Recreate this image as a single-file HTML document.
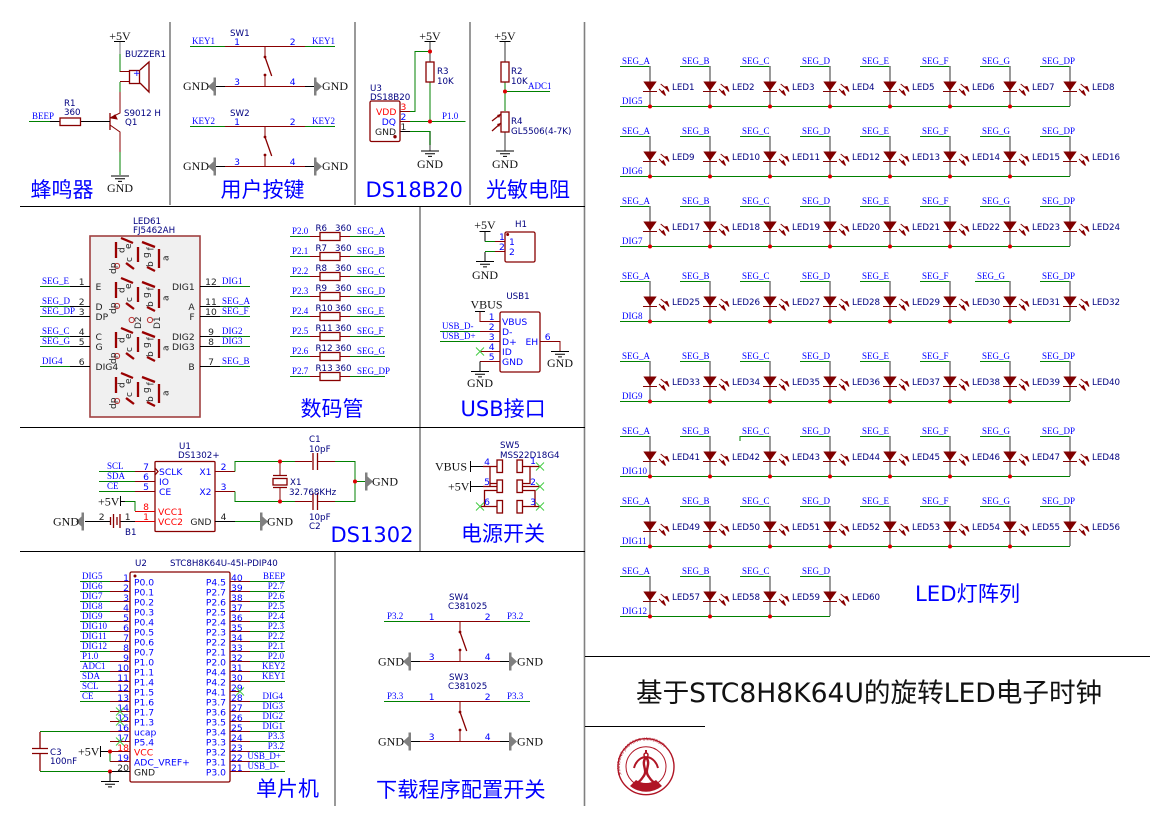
<!DOCTYPE html>
<html><head><meta charset="utf-8"><style>
html,body{margin:0;padding:0;background:#fff}
svg{display:block}
text{white-space:pre}
.n{font:9px "Liberation Serif",serif;fill:#0000ff}
.b{font:12px "Liberation Serif",serif;fill:#111}
.c{font:8.7px "DejaVu Sans",sans-serif;fill:#000080}
.p{font:9.2px "DejaVu Sans",sans-serif;fill:#0000ff}
.k{font:9.2px "DejaVu Sans",sans-serif;fill:#222}
.r{font:9.2px "DejaVu Sans",sans-serif;fill:#ff0000}
.s{font:9px "DejaVu Sans",sans-serif;fill:#222}
.t{font:21px "DejaVu Sans","WenQuanYi Zen Hei","Noto Sans CJK SC",sans-serif;fill:#0000ff}
.e{text-anchor:end}.m{text-anchor:middle}
.g{stroke:#008000;stroke-width:1;fill:none}
.d{stroke:#880000;stroke-width:1;fill:none}
.a{stroke:#000;stroke-width:1;fill:none}
.y{stroke:#808080;stroke-width:1.6;fill:none}
.q{stroke:#880000;stroke-width:1.3;fill:#fff}
.x{stroke:#880000;stroke-width:1.3;fill:none}
</style></head><body>
<svg width="1169" height="827" viewBox="0 0 1169 827" xmlns="http://www.w3.org/2000/svg">
<defs>
<g id="gnd" stroke="#000" fill="none"><path d="M-9 .5H9M-5 3.2H5M-2 5.9H2"/></g>
<path id="gl" d="M-2.5 -9H0V9H-2.5V5L-8 0L-2.5 -5Z" fill="#808080"/>
<path id="gr" d="M2.5 -9H0V9H2.5V5L8 0L2.5 -5Z" fill="#808080"/>
<g id="xm" stroke="#44cc44" stroke-width="1" fill="none"><path d="M-4 -4L4 4M-4 4L4 -4"/></g>
<circle id="dot" r="2" fill="#dd0000"/>
<g id="led">
<path d="M0 0V40" stroke="#808080" stroke-width="1.6" fill="none"/>
<path d="M-6.7 15.5H6.7L0 25Z" fill="#800000"/>
<path d="M-7 25.5H7" stroke="#800000" fill="none"/>
<path d="M10.7 18L18.5 24.5M9 23L15 29" stroke="#880000" fill="none"/>
<path d="M15 21L19 25.5L17 20.5ZM11.5 26L15.5 29.5L13.5 24.5Z" fill="#880000" stroke="#880000"/>
</g>
<g id="sw">
<path class="d" d="M40 .5H120M80 .5V11M40 40.5H120M80 29V40.5"/>
<path class="x" d="M80 11L86.7 30"/>
<circle cx="80" cy="11" r="1.4" fill="#880000"/><circle cx="80" cy="29" r="1.4" fill="#880000"/>
</g>
<g id="res"><path class="d" d="M310 .5H320M340 .5H350"/><path class="g" d="M290 .5H310M350 .5H385"/><rect x="320" y="-3.5" width="20" height="8" class="q"/></g>
<g id="seg" stroke="#990000" stroke-width="2.3" fill="none">
<path d="M116 242V258M121 238L133 243M138 247V262M142 242L155 247M159 249V268M126 263L134 269M147 267L155 271"/>
<circle cx="117" cy="266" r="2.6" stroke="#bb3333" stroke-width="1"/>
</g>
</defs>

<!-- frame lines -->
<g fill="none">
<path d="M170 22V205M355 22V205M470 22V205M420 206V551M335 552V806M584.5 22V806" stroke="#808080" stroke-width="1.6"/>
<path d="M20 206.5H585M20 427.5H585M20 551.5H585M585 656.5H1150M585 726.5H705" stroke="#000" stroke-width="1"/>
</g>

<!-- buzzer -->
<text class="b m" x="120" y="40">+5V</text><path class="a" d="M114 41.5H125"/>
<path d="M120 42V54" stroke="#777" fill="none"/><path class="g" d="M120 54V72"/>
<path class="d" d="M120 71.5H129M120 81.5H129"/><path class="g" d="M120 82V92"/><path class="d" d="M120 92V113L110 118M120 175V132L110 125"/><path class="g" d="M120 152V175"/>
<path d="M111 118L115 115L117 119Z" fill="#880000" stroke="#880000"/>
<rect x="129.5" y="70.5" width="10" height="13" class="x"/><path class="x" d="M140 70L149 62V92L140 83"/>
<text class="p" x="133" y="76">+</text>
<text class="c" x="125" y="57">BUZZER1</text>
<text class="c" x="124" y="116">S9012 H</text><text class="c" x="125" y="125">Q1</text>
<path class="x" d="M110 113V130"/>
<path class="a" d="M50 121.5H60M81 121.5H110"/><path class="g" d="M29 121.5H50"/>
<rect x="60" y="118" width="20.5" height="7.5" class="q"/>
<text class="n" x="32" y="119">BEEP</text><text class="c" x="64" y="106">R1</text><text class="c" x="64" y="115">360</text>
<use href="#gnd" x="120" y="175.5"/><text class="b m" x="120" y="192">GND</text>
<text class="t" x="30.5" y="197">蜂鸣器</text>

<!-- keys -->
<g>
<path class="g" d="M190 46.5H225M305 46.5H335M190 126.5H225M305 126.5H335"/>
<path class="a" d="M214 86.5H225M305 86.5H315M214 166.5H225M305 166.5H315"/>
</g>
<use href="#sw" x="185" y="46"/><use href="#sw" x="185" y="126"/>
<use href="#gl" x="216" y="86.5"/><use href="#gr" x="314" y="86.5"/><use href="#gl" x="216" y="166.5"/><use href="#gr" x="314" y="166.5"/>
<text class="c" x="230" y="36">SW1</text><text class="c" x="230" y="116">SW2</text>
<text class="n" x="192" y="44">KEY1</text><text class="n" x="312" y="44">KEY1</text>
<text class="n" x="192" y="124">KEY2</text><text class="n" x="312" y="124">KEY2</text>
<text class="p m" x="237" y="45">1</text><text class="p m" x="292.7" y="45">2</text><text class="p m" x="237" y="85">3</text><text class="p m" x="292.7" y="85">4</text>
<text class="p m" x="237" y="125">1</text><text class="p m" x="292.7" y="125">2</text><text class="p m" x="237" y="165">3</text><text class="p m" x="292.7" y="165">4</text>
<text class="b" x="183" y="90">GND</text><text class="b" x="322" y="90">GND</text><text class="b" x="183" y="170">GND</text><text class="b" x="322" y="170">GND</text>
<text class="t" x="220.5" y="197">用户按键</text>

<!-- DS18B20 -->
<text class="b m" x="430" y="40">+5V</text><path class="a" d="M424.5 41.5H435.5"/>
<path class="y" d="M430 42V62M430 131V151" stroke-width="1"/>
<path class="g" d="M430 51.5H415V111.5H410M430 82V121M410 121.5H465.5M410 131.5H430V145"/>
<path class="d" d="M400 111.5H410" stroke="#ff0000"/><path class="d" d="M400 121.5H410"/><path class="a" d="M400 131.5H410"/>
<rect x="370" y="101" width="30" height="40.5" rx="1.5" class="x" fill="none"/>
<rect x="426" y="62" width="8" height="20" class="q"/>
<use href="#dot" x="430" y="51.5"/><use href="#dot" x="430" y="121.5"/>
<circle cx="395" cy="136.7" r="1.7" fill="#880000"/>
<text class="r" x="376" y="115">VDD</text><text class="p e" x="396" y="125">DQ</text><text class="k" x="375" y="135">GND</text>
<text class="r" x="400.5" y="110">3</text><text class="p" x="400.5" y="120">2</text><text class="k" x="400.5" y="130">1</text>
<text class="c" x="370" y="91">U3</text><text class="c" x="370" y="100">DS18B20</text>
<text class="c" x="437" y="74">R3</text><text class="c" x="437" y="84">10K</text>
<text class="n" x="442" y="119">P1.0</text>
<use href="#gnd" x="430" y="150.5"/><text class="b m" x="430" y="168">GND</text>
<text class="t" x="365.5" y="197">DS18B20</text>

<!-- photo -->
<text class="b m" x="505" y="40">+5V</text><path class="a" d="M499.5 41.5H510.5"/>
<path class="y" d="M505 42V62M505 132V151" stroke-width="1"/>
<path class="g" d="M505 82V111M505 91.5H550"/>
<rect x="501" y="62" width="8" height="20" class="q"/><rect x="501" y="112" width="8" height="20" class="q"/>
<path class="x" d="M492 121L501 114M492 131L501 123"/>
<path d="M501 114L497 115L499 118ZM501 123L497 124L499 127Z" fill="#880000"/>
<use href="#dot" x="505" y="91.5"/>
<text class="c" x="511" y="74">R2</text><text class="c" x="511" y="84">10K</text>
<text class="n" x="528" y="89">ADC1</text>
<text class="c" x="511" y="124">R4</text><text class="c" x="511" y="134">GL5506(4-7K)</text>
<use href="#gnd" x="505" y="150.5"/><text class="b m" x="505" y="168">GND</text>
<text class="t" x="486" y="197">光敏电阻</text>

<!-- 7-seg -->
<rect x="90" y="236" width="110" height="181" fill="#f0f0f0" stroke="#a04040" stroke-width="1.6"/>
<text class="c" x="133" y="224">LED61</text><text class="c" x="133" y="233">FJ5462AH</text>
<use href="#seg"/><use href="#seg" y="40"/><use href="#seg" y="90"/><use href="#seg" y="135"/>
<g>
<text transform="translate(124.500,253) rotate(-90)" class="s">d</text><text transform="translate(131,249) rotate(-90)" class="s">e</text><text transform="translate(132,262) rotate(-90)" class="s">c</text><text transform="translate(149,258) rotate(-90)" class="s">g</text><text transform="translate(153.500,250.500) rotate(-90)" class="s">f</text><text transform="translate(153,267) rotate(-90)" class="s">b</text><text transform="translate(168.700,261) rotate(-90)" class="s">a</text><text transform="translate(116,274) rotate(-90)" class="s">dp</text>
</g>
<g transform="translate(0,40)">
<text transform="translate(124.500,253) rotate(-90)" class="s">d</text><text transform="translate(131,249) rotate(-90)" class="s">e</text><text transform="translate(132,262) rotate(-90)" class="s">c</text><text transform="translate(149,258) rotate(-90)" class="s">g</text><text transform="translate(153.500,250.500) rotate(-90)" class="s">f</text><text transform="translate(153,267) rotate(-90)" class="s">b</text><text transform="translate(168.700,261) rotate(-90)" class="s">a</text><text transform="translate(116,274) rotate(-90)" class="s">dp</text>
</g>
<g transform="translate(0,90)">
<text transform="translate(124.500,253) rotate(-90)" class="s">d</text><text transform="translate(131,249) rotate(-90)" class="s">e</text><text transform="translate(132,262) rotate(-90)" class="s">c</text><text transform="translate(149,258) rotate(-90)" class="s">g</text><text transform="translate(153.500,250.500) rotate(-90)" class="s">f</text><text transform="translate(153,267) rotate(-90)" class="s">b</text><text transform="translate(168.700,261) rotate(-90)" class="s">a</text><text transform="translate(116,274) rotate(-90)" class="s">dp</text>
</g>
<g transform="translate(0,135)">
<text transform="translate(124.500,253) rotate(-90)" class="s">d</text><text transform="translate(131,249) rotate(-90)" class="s">e</text><text transform="translate(132,262) rotate(-90)" class="s">c</text><text transform="translate(149,258) rotate(-90)" class="s">g</text><text transform="translate(153.500,250.500) rotate(-90)" class="s">f</text><text transform="translate(153,267) rotate(-90)" class="s">b</text><text transform="translate(168.700,261) rotate(-90)" class="s">a</text><text transform="translate(116,274) rotate(-90)" class="s">dp</text>
</g>
<circle cx="131.700" cy="320" r="2.6" fill="none" stroke="#bb3333"/><circle cx="150" cy="320" r="2.6" fill="none" stroke="#bb3333"/>
<text transform="translate(141,329) rotate(-90)" class="s">D2</text><text transform="translate(160,329) rotate(-90)" class="s">D1</text>
<path class="a" d="M70 286.5H90M70 306.5H90M70 316.5H90M70 336.5H90M70 346.5H90M70 366.5H90M200 286.5H220M200 306.5H220M200 316.5H220M200 336.5H220M200 346.5H220M200 366.5H220"/>
<path class="g" d="M40 286.5H70M40 306.5H70M40 316.5H70M40 336.5H70M40 346.5H70M40 366.5H70M220 286.5H250M220 306.5H250M220 316.5H250M220 336.5H250M220 346.5H250M220 366.5H250"/>
<text class="n" x="42" y="284">SEG_E</text><text class="n" x="42" y="304">SEG_D</text><text class="n" x="42" y="314">SEG_DP</text><text class="n" x="42" y="334">SEG_C</text><text class="n" x="42" y="344">SEG_G</text><text class="n" x="42" y="364">DIG4</text>
<text class="n" x="222" y="284">DIG1</text><text class="n" x="222" y="304">SEG_A</text><text class="n" x="222" y="314">SEG_F</text><text class="n" x="222" y="334">DIG2</text><text class="n" x="222" y="344">DIG3</text><text class="n" x="222" y="364">SEG_B</text>
<text class="k m" x="81.700" y="285">1</text><text class="k m" x="81.700" y="305">2</text><text class="k m" x="81.700" y="315">3</text><text class="k m" x="81.700" y="335">4</text><text class="k m" x="81.700" y="345">5</text><text class="k m" x="81.700" y="365">6</text>
<text class="k m" x="211" y="285">12</text><text class="k m" x="211" y="305">11</text><text class="k m" x="211" y="315">10</text><text class="k m" x="211" y="335">9</text><text class="k m" x="211" y="345">8</text><text class="k m" x="211" y="365">7</text>
<text class="k" x="95.5" y="290">E</text><text class="k" x="95.5" y="310">D</text><text class="k" x="95.5" y="320">DP</text><text class="k" x="95.5" y="340">C</text><text class="k" x="95.5" y="350">G</text><text class="k" x="95.5" y="370">DIG4</text>
<text class="k e" x="194.700" y="290">DIG1</text><text class="k e" x="194.700" y="310">A</text><text class="k e" x="194.700" y="320">F</text><text class="k e" x="194.700" y="340">DIG2</text><text class="k e" x="194.700" y="350">DIG3</text><text class="k e" x="194.700" y="370">B</text>

<!-- resistors -->
<use href="#res" y="236"/><use href="#res" y="256"/><use href="#res" y="276"/><use href="#res" y="296"/><use href="#res" y="316"/><use href="#res" y="336"/><use href="#res" y="356"/><use href="#res" y="376"/>
<text class="n" x="292" y="234">P2.0</text><text class="n" x="292" y="254">P2.1</text><text class="n" x="292" y="274">P2.2</text><text class="n" x="292" y="294">P2.3</text><text class="n" x="292" y="314">P2.4</text><text class="n" x="292" y="334">P2.5</text><text class="n" x="292" y="354">P2.6</text><text class="n" x="292" y="374">P2.7</text>
<text class="c" x="315.5" y="231">R6</text><text class="c" x="315.5" y="251">R7</text><text class="c" x="315.5" y="271">R8</text><text class="c" x="315.5" y="291">R9</text><text class="c" x="315.5" y="311">R10</text><text class="c" x="315.5" y="331">R11</text><text class="c" x="315.5" y="351">R12</text><text class="c" x="315.5" y="371">R13</text>
<text class="c" x="335" y="231">360</text><text class="c" x="335" y="251">360</text><text class="c" x="335" y="271">360</text><text class="c" x="335" y="291">360</text><text class="c" x="335" y="311">360</text><text class="c" x="335" y="331">360</text><text class="c" x="335" y="351">360</text><text class="c" x="335" y="371">360</text>
<text class="n" x="357" y="234">SEG_A</text><text class="n" x="357" y="254">SEG_B</text><text class="n" x="357" y="274">SEG_C</text><text class="n" x="357" y="294">SEG_D</text><text class="n" x="357" y="314">SEG_E</text><text class="n" x="357" y="334">SEG_F</text><text class="n" x="357" y="354">SEG_G</text><text class="n" x="357" y="374">SEG_DP</text>
<text class="t" x="300.5" y="416">数码管</text>

<!-- H1 -->
<text class="c m" x="521" y="227">H1</text>
<text class="b m" x="485" y="229">+5V</text><path class="a" d="M479.5 231.5H490.5M485 232V241.5"/>
<path class="g" d="M485 241.5H495M485 251.5H495"/><path class="d" d="M495 241.5H505M495 251.5H505"/><path class="a" d="M485 252V261"/>
<rect x="505" y="232" width="30" height="30" rx="1.5" class="x"/>
<circle cx="507.700" cy="234.5" r="1.5" fill="#880000"/>
<text class="p" x="499" y="240">1</text><text class="p" x="499" y="250">2</text><text class="p" x="509" y="245">1</text><text class="p" x="509" y="255">2</text>
<use href="#gnd" x="485" y="261"/><text class="b m" x="485" y="279">GND</text>

<!-- USB -->
<text class="c m" x="518" y="299">USB1</text>
<text class="b" x="470.5" y="308.5">VBUS</text>
<path class="a" d="M475 311.5H485"/>
<path class="d" d="M480 312V321.5H500M480 331.5H500M480 341.5H500M480 351.5H500M480 361.5H500"/>
<path class="g" d="M440 331.5H480M440 341.5H480"/>
<path class="a" d="M480 361.5V371"/>
<rect x="500" y="312" width="40" height="60" rx="1.5" class="x"/>
<use href="#xm" x="480" y="351.5"/>
<use href="#gnd" x="480" y="371"/><text class="b m" x="480" y="387">GND</text>
<text class="n" x="442" y="329">USB_D-</text><text class="n" x="442" y="339">USB_D+</text>
<text class="p m" x="491.700" y="320">1</text><text class="p m" x="491.700" y="330">2</text><text class="p m" x="491.700" y="340">3</text><text class="p m" x="491.700" y="350">4</text><text class="p m" x="491.700" y="360">5</text>
<text class="p" x="502" y="325">VBUS</text><text class="p" x="502" y="335">D-</text><text class="p" x="502" y="345">D+</text><text class="p" x="502" y="355">ID</text><text class="p" x="502" y="365">GND</text>
<text class="p" x="525.5" y="345">EH</text><text class="p m" x="547.700" y="340">6</text>
<path class="d" d="M540 341.5H560V351"/>
<use href="#gnd" x="560" y="351"/><text class="b m" x="560" y="367">GND</text>
<text class="t" x="460.5" y="416">USB接口</text>

<!-- DS1302 -->
<text class="c" x="179" y="449">U1</text><text class="c" x="178" y="458">DS1302+</text>
<rect x="155" y="461.5" width="60" height="70" rx="1" class="x"/>
<path class="d" d="M135 471.5H155M135 481.5H155M135 491.5H155M215 471.5H235M215 491.5H235"/>
<path d="M135 511.5H155M135 521.5H155" stroke="#dd0000" fill="none"/>
<path class="g" d="M99 471.5H135M99 481.5H135M99 491.5H135"/>
<path class="a" d="M215 521.5H235M85 521.5H110M120 521.5H135"/><path class="g" d="M235 521.5H260"/>
<path class="x" d="M155 468L158 471.5L155 475"/>
<text class="n" x="107" y="469">SCL</text><text class="n" x="107" y="479">SDA</text><text class="n" x="107" y="489">CE</text>
<text class="p m" x="146" y="470">7</text><text class="p m" x="146" y="480">6</text><text class="p m" x="146" y="490">5</text>
<text class="r m" x="146" y="510">8</text><text class="r m" x="146" y="520">1</text>
<text class="p" x="159" y="475">SCLK</text><text class="p" x="159" y="485">IO</text><text class="p" x="159" y="495">CE</text>
<text class="r" x="158" y="515">VCC1</text><text class="r" x="158" y="525">VCC2</text>
<text class="p e" x="211.5" y="475">X1</text><text class="p e" x="211.5" y="495">X2</text><text class="k e" x="211.5" y="525">GND</text>
<text class="p m" x="223.5" y="470">2</text><text class="p m" x="223.5" y="490">3</text><text class="k m" x="223.5" y="520">4</text>
<path class="g" d="M235 471.5V461.5H295M235 491.5V501.5H295M335 461.5H355V501.5H335M355 481.5H365"/>
<path class="d" d="M295 461.5H312M318 461.5H335M295 501.5H312M318 501.5H335M280 461.5V475M280 488V501.5"/>
<path class="x" d="M313 453V470M317.5 453V470M313 493V510M317.5 493V510M273 475.5H287M273 487.5H287"/>
<rect x="273" y="478.5" width="14" height="6.5" class="x"/>
<use href="#dot" x="280" y="461.5"/><use href="#dot" x="280" y="501.5"/><use href="#dot" x="355" y="481.5"/>
<use href="#gr" x="365" y="481.5"/><use href="#gr" x="260" y="521.5"/><use href="#gl" x="84" y="521.5"/>
<text class="b" x="372" y="485.5">GND</text><text class="b" x="267" y="525.5">GND</text><text class="b" x="53" y="525.5">GND</text>
<text class="c" x="309" y="442">C1</text><text class="c" x="309" y="452">10pF</text>
<text class="c" x="309" y="520">10pF</text><text class="c" x="309" y="529">C2</text>
<text class="c" x="290" y="485">X1</text><text class="c" x="289" y="495">32.768KHz</text>
<path class="x" d="M110.5 517V525M113.5 514V528M117 517V525M120 514V528" stroke-width="1"/>
<text class="k m" x="101.700" y="520">2</text><text class="k m" x="127.700" y="520">1</text><text class="c" x="125" y="535">B1</text>
<text class="b" x="98" y="505.5">+5V</text><path class="a" d="M120.5 496V506M120 501.5H125"/><path class="g" d="M125 501.5H135V511"/>
<text class="t" x="330.5" y="542">DS1302</text>

<!-- power switch -->
<text class="c" x="500" y="448">SW5</text><text class="c" x="500" y="458">MSS22D18G4</text>
<text class="b" x="435" y="470.5">VBUS</text><text class="b" x="448" y="490.5">+5V</text>
<path class="a" d="M470.5 461V472M470.5 481V492M471 466.5H483M471 486.5H483"/>
<g class="x" stroke-width="1">
<path d="M483 466.5H497M483 486.5H497M490 466.5V486.5M497 490.5H484.5V506.5H481M497 506.5H481M497 483.5H490M523 466.5H540M530 466.5V483.5H523M523 486.5H540M523 490.5H535V506.5H523M523 506.5H540"/>
</g>
<g fill="#fff" class="x"><rect x="497" y="460" width="5.5" height="12.5"/><rect x="497" y="480" width="5.5" height="12.5"/><rect x="497" y="500.5" width="5.5" height="12.5"/><rect x="517" y="460" width="5.5" height="12.5"/><rect x="517" y="480" width="5.5" height="12.5"/><rect x="517" y="500.5" width="5.5" height="12.5"/></g>
<use href="#xm" x="540" y="466.5"/><use href="#xm" x="540" y="486.5"/><use href="#xm" x="540" y="506.5"/><use href="#xm" x="480" y="506.5"/>
<text class="p m" x="487" y="465">4</text><text class="p m" x="487" y="485">5</text><text class="p m" x="487" y="505">6</text>
<text class="p m" x="533" y="464">1</text><text class="p m" x="533" y="485">2</text><text class="p m" x="533" y="505">3</text>
<text class="t" x="461" y="541">电源开关</text>

<!-- MCU -->
<text class="c" x="135" y="566">U2</text><text class="c" x="170" y="566">STC8H8K64U-45I-PDIP40</text>
<rect x="130" y="572" width="100" height="210" rx="1.5" class="x"/>
<circle cx="135" cy="576" r="1.5" fill="#880000"/>
<path class="d" d="M110 581.5H130M110 591.5H130M110 601.5H130M110 611.5H130M110 621.5H130M110 631.5H130M110 641.5H130M110 651.5H130M110 661.5H130M110 671.5H130M110 681.5H130M110 691.5H130M110 701.5H130M110 711.5H130M110 721.5H130M110 731.5H130M110 741.5H130M110 751.5H130M110 761.5H130"/>
<path class="a" d="M110 771.5H130"/>
<path class="d" d="M230 581.5H250M230 591.5H250M230 601.5H250M230 611.5H250M230 621.5H250M230 631.5H250M230 641.5H250M230 651.5H250M230 661.5H250M230 671.5H250M230 681.5H250M230 691.5H240M230 701.5H250M230 711.5H250M230 721.5H250M230 731.5H250M230 741.5H250M230 751.5H250M230 761.5H250M230 771.5H250"/>
<path class="g" d="M80 581.5H110M80 591.5H110M80 601.5H110M80 611.5H110M80 621.5H110M80 631.5H110M80 641.5H110M80 651.5H110M80 661.5H110M80 671.5H110M80 681.5H110M80 691.5H110M80 701.5H110M40 731.5H110M40 771.5H110M110 752V761.5M250 581.5H285M250 591.5H285M250 601.5H285M250 611.5H285M250 621.5H285M250 631.5H285M250 641.5H285M250 651.5H285M250 661.5H285M250 671.5H285M250 681.5H285M250 701.5H285M250 711.5H285M250 721.5H285M250 731.5H285M250 741.5H285M250 751.5H285M250 761.5H285M250 771.5H285"/>
<g>
<text class="n" x="82" y="579">DIG5</text><text class="n" x="82" y="589">DIG6</text><text class="n" x="82" y="599">DIG7</text><text class="n" x="82" y="609">DIG8</text><text class="n" x="82" y="619">DIG9</text><text class="n" x="82" y="629">DIG10</text><text class="n" x="82" y="639">DIG11</text><text class="n" x="82" y="649">DIG12</text><text class="n" x="82" y="659">P1.0</text><text class="n" x="82" y="669">ADC1</text><text class="n" x="82" y="679">SDA</text><text class="n" x="82" y="689">SCL</text><text class="n" x="82" y="699">CE</text>
<text class="p e" x="129" y="581">1</text><text class="p e" x="129" y="591">2</text><text class="p e" x="129" y="601">3</text><text class="p e" x="129" y="611">4</text><text class="p e" x="129" y="621">5</text><text class="p e" x="129" y="631">6</text><text class="p e" x="129" y="641">7</text><text class="p e" x="129" y="651">8</text><text class="p e" x="129" y="661">9</text><text class="p e" x="129" y="671">10</text><text class="p e" x="129" y="681">11</text><text class="p e" x="129" y="691">12</text><text class="p e" x="129" y="701">13</text><text class="p e" x="129" y="711">14</text><text class="p e" x="129" y="721">15</text><text class="p e" x="129" y="731">16</text><text class="p e" x="129" y="741">17</text><text class="r e" x="129" y="751">18</text><text class="p e" x="129" y="761">19</text><text class="k e" x="129" y="771">20</text>
<text class="p" x="134" y="585.5">P0.0</text><text class="p" x="134" y="595.5">P0.1</text><text class="p" x="134" y="605.5">P0.2</text><text class="p" x="134" y="615.5">P0.3</text><text class="p" x="134" y="625.5">P0.4</text><text class="p" x="134" y="635.5">P0.5</text><text class="p" x="134" y="645.5">P0.6</text><text class="p" x="134" y="655.5">P0.7</text><text class="p" x="134" y="665.5">P1.0</text><text class="p" x="134" y="675.5">P1.1</text><text class="p" x="134" y="685.5">P1.4</text><text class="p" x="134" y="695.5">P1.5</text><text class="p" x="134" y="705.5">P1.6</text><text class="p" x="134" y="715.5">P1.7</text><text class="p" x="134" y="725.5">P1.3</text><text class="p" x="134" y="735.5">ucap</text><text class="p" x="134" y="745.5">P5.4</text><text class="r" x="134" y="755.5">VCC</text><text class="p" x="134" y="765.5">ADC_VREF+</text><text class="k" x="134" y="775.5">GND</text>
<text class="p e" x="226" y="585.5">P4.5</text><text class="p e" x="226" y="595.5">P2.7</text><text class="p e" x="226" y="605.5">P2.6</text><text class="p e" x="226" y="615.5">P2.5</text><text class="p e" x="226" y="625.5">P2.4</text><text class="p e" x="226" y="635.5">P2.3</text><text class="p e" x="226" y="645.5">P2.2</text><text class="p e" x="226" y="655.5">P2.1</text><text class="p e" x="226" y="665.5">P2.0</text><text class="p e" x="226" y="675.5">P4.4</text><text class="p e" x="226" y="685.5">P4.2</text><text class="p e" x="226" y="695.5">P4.1</text><text class="p e" x="226" y="705.5">P3.7</text><text class="p e" x="226" y="715.5">P3.6</text><text class="p e" x="226" y="725.5">P3.5</text><text class="p e" x="226" y="735.5">P3.4</text><text class="p e" x="226" y="745.5">P3.3</text><text class="p e" x="226" y="755.5">P3.2</text><text class="p e" x="226" y="765.5">P3.1</text><text class="p e" x="226" y="775.5">P3.0</text>
<text class="p" x="231" y="581">40</text><text class="p" x="231" y="591">39</text><text class="p" x="231" y="601">38</text><text class="p" x="231" y="611">37</text><text class="p" x="231" y="621">36</text><text class="p" x="231" y="631">35</text><text class="p" x="231" y="641">34</text><text class="p" x="231" y="651">33</text><text class="p" x="231" y="661">32</text><text class="p" x="231" y="671">31</text><text class="p" x="231" y="681">30</text><text class="p" x="231" y="691">29</text><text class="p" x="231" y="701">28</text><text class="p" x="231" y="711">27</text><text class="p" x="231" y="721">26</text><text class="p" x="231" y="731">25</text><text class="p" x="231" y="741">24</text><text class="p" x="231" y="751">23</text><text class="p" x="231" y="761">22</text><text class="p" x="231" y="771">21</text>
<text class="n e" x="285" y="579">BEEP</text><text class="n e" x="284" y="589">P2.7</text><text class="n e" x="284" y="599">P2.6</text><text class="n e" x="284" y="609">P2.5</text><text class="n e" x="284" y="619">P2.4</text><text class="n e" x="284" y="629">P2.3</text><text class="n e" x="284" y="639">P2.2</text><text class="n e" x="284" y="649">P2.1</text><text class="n e" x="284" y="659">P2.0</text><text class="n e" x="285" y="669">KEY2</text><text class="n e" x="285" y="679">KEY1</text><text class="n e" x="283" y="699">DIG4</text><text class="n e" x="283" y="709">DIG3</text><text class="n e" x="283" y="719">DIG2</text><text class="n e" x="283" y="729">DIG1</text><text class="n e" x="284" y="739">P3.3</text><text class="n e" x="284" y="749">P3.2</text><text class="n e" x="281" y="759">USB_D+</text><text class="n e" x="279" y="769">USB_D-</text>
</g>
<use href="#xm" x="120" y="711.5"/><use href="#xm" x="120" y="721.5"/><use href="#xm" x="120" y="741.5"/><use href="#xm" x="240" y="691.5"/>
<path class="x" d="M40 732V748M40 753V771M32 748.5H48M32 753.5H48"/>
<text class="c" x="50" y="755">C3</text><text class="c" x="50" y="764">100nF</text>
<text class="b" x="78" y="755.5">+5V</text><path class="a" d="M100.5 746V757M100 751.5H110"/>
<use href="#dot" x="110" y="751.5"/><use href="#dot" x="110" y="771.5"/>
<path class="a" d="M110 772V781"/><use href="#gnd" x="110" y="781"/>
<text class="t" x="256" y="796">单片机</text>

<!-- download -->
<use href="#sw" x="380" y="621"/><use href="#sw" x="380" y="701"/>
<path class="g" d="M384 621.5H420M500 621.5H530M384 701.5H420M500 701.5H530"/>
<path class="a" d="M410 661.5H420M500 661.5H510M410 741.5H420M500 741.5H510"/>
<use href="#gl" x="411" y="661.5"/><use href="#gr" x="509" y="661.5"/><use href="#gl" x="411" y="741.5"/><use href="#gr" x="509" y="741.5"/>
<text class="c" x="449" y="600">SW4</text><text class="c" x="448" y="609">C381025</text>
<text class="c" x="449" y="680">SW3</text><text class="c" x="448" y="689">C381025</text>
<text class="n" x="387" y="619">P3.2</text><text class="n" x="507" y="619">P3.2</text><text class="n" x="387" y="699">P3.3</text><text class="n" x="507" y="699">P3.3</text>
<text class="p m" x="431.700" y="620">1</text><text class="p m" x="487.700" y="620">2</text><text class="p m" x="431.700" y="660">3</text><text class="p m" x="487.700" y="660">4</text>
<text class="p m" x="431.700" y="700">1</text><text class="p m" x="487.700" y="700">2</text><text class="p m" x="431.700" y="740">3</text><text class="p m" x="487.700" y="740">4</text>
<text class="b" x="378" y="665.5">GND</text><text class="b" x="517" y="665.5">GND</text><text class="b" x="378" y="745.5">GND</text><text class="b" x="517" y="745.5">GND</text>
<text class="t" x="376" y="797" style="font-size:21.2px">下载程序配置开关</text>

<!-- LED matrix -->
<g transform="translate(0,66)">
<path class="g" d="M620 .5H650M680 .5H710M740 .5H770M800 .5H830M860 .5H890M920 .5H950M980 .5H1010M1040 .5H1070M620 40.5H1070"/>
<use href="#led" x="650"/><use href="#led" x="710"/><use href="#led" x="770"/><use href="#led" x="830"/><use href="#led" x="890"/><use href="#led" x="950"/><use href="#led" x="1010"/><use href="#led" x="1070"/>
<use href="#dot" x="650" y="40.5"/><use href="#dot" x="710" y="40.5"/><use href="#dot" x="770" y="40.5"/><use href="#dot" x="830" y="40.5"/><use href="#dot" x="890" y="40.5"/><use href="#dot" x="950" y="40.5"/><use href="#dot" x="1010" y="40.5"/>
<text class="n" x="622" y="-2">SEG_A</text><text class="n" x="682" y="-2">SEG_B</text><text class="n" x="742" y="-2">SEG_C</text><text class="n" x="802" y="-2">SEG_D</text><text class="n" x="862" y="-2">SEG_E</text><text class="n" x="922" y="-2">SEG_F</text><text class="n" x="982" y="-2">SEG_G</text><text class="n" x="1042" y="-2">SEG_DP</text>
<text class="n" x="622" y="38">DIG5</text>
<text class="c" x="672" y="24">LED1</text><text class="c" x="732" y="24">LED2</text><text class="c" x="792" y="24">LED3</text><text class="c" x="852" y="24">LED4</text><text class="c" x="912" y="24">LED5</text><text class="c" x="972" y="24">LED6</text><text class="c" x="1032" y="24">LED7</text><text class="c" x="1092" y="24">LED8</text>
</g>
<g transform="translate(0,136)">
<path class="g" d="M620 .5H650M680 .5H710M740 .5H770M800 .5H830M860 .5H890M920 .5H950M980 .5H1010M1040 .5H1070M620 40.5H1070"/>
<use href="#led" x="650"/><use href="#led" x="710"/><use href="#led" x="770"/><use href="#led" x="830"/><use href="#led" x="890"/><use href="#led" x="950"/><use href="#led" x="1010"/><use href="#led" x="1070"/>
<use href="#dot" x="650" y="40.5"/><use href="#dot" x="710" y="40.5"/><use href="#dot" x="770" y="40.5"/><use href="#dot" x="830" y="40.5"/><use href="#dot" x="890" y="40.5"/><use href="#dot" x="950" y="40.5"/><use href="#dot" x="1010" y="40.5"/>
<text class="n" x="622" y="-2">SEG_A</text><text class="n" x="682" y="-2">SEG_B</text><text class="n" x="742" y="-2">SEG_C</text><text class="n" x="802" y="-2">SEG_D</text><text class="n" x="862" y="-2">SEG_E</text><text class="n" x="922" y="-2">SEG_F</text><text class="n" x="982" y="-2">SEG_G</text><text class="n" x="1042" y="-2">SEG_DP</text>
<text class="n" x="622" y="38">DIG6</text>
<text class="c" x="672" y="24">LED9</text><text class="c" x="732" y="24">LED10</text><text class="c" x="792" y="24">LED11</text><text class="c" x="852" y="24">LED12</text><text class="c" x="912" y="24">LED13</text><text class="c" x="972" y="24">LED14</text><text class="c" x="1032" y="24">LED15</text><text class="c" x="1092" y="24">LED16</text>
</g>
<g transform="translate(0,206)">
<path class="g" d="M620 .5H650M680 .5H710M740 .5H770M800 .5H830M860 .5H890M920 .5H950M980 .5H1010M1040 .5H1070M620 40.5H1070"/>
<use href="#led" x="650"/><use href="#led" x="710"/><use href="#led" x="770"/><use href="#led" x="830"/><use href="#led" x="890"/><use href="#led" x="950"/><use href="#led" x="1010"/><use href="#led" x="1070"/>
<use href="#dot" x="650" y="40.5"/><use href="#dot" x="710" y="40.5"/><use href="#dot" x="770" y="40.5"/><use href="#dot" x="830" y="40.5"/><use href="#dot" x="890" y="40.5"/><use href="#dot" x="950" y="40.5"/><use href="#dot" x="1010" y="40.5"/>
<text class="n" x="622" y="-2">SEG_A</text><text class="n" x="682" y="-2">SEG_B</text><text class="n" x="742" y="-2">SEG_C</text><text class="n" x="802" y="-2">SEG_D</text><text class="n" x="862" y="-2">SEG_E</text><text class="n" x="922" y="-2">SEG_F</text><text class="n" x="982" y="-2">SEG_G</text><text class="n" x="1042" y="-2">SEG_DP</text>
<text class="n" x="622" y="38">DIG7</text>
<text class="c" x="672" y="24">LED17</text><text class="c" x="732" y="24">LED18</text><text class="c" x="792" y="24">LED19</text><text class="c" x="852" y="24">LED20</text><text class="c" x="912" y="24">LED21</text><text class="c" x="972" y="24">LED22</text><text class="c" x="1032" y="24">LED23</text><text class="c" x="1092" y="24">LED24</text>
</g>
<g transform="translate(0,281)">
<path class="g" d="M620 .5H650M680 .5H710M740 .5H770M800 .5H830M860 .5H890M920 .5H950M975 .5H1010M1040 .5H1070M620 40.5H1070"/>
<use href="#led" x="650"/><use href="#led" x="710"/><use href="#led" x="770"/><use href="#led" x="830"/><use href="#led" x="890"/><use href="#led" x="950"/><use href="#led" x="1010"/><use href="#led" x="1070"/>
<use href="#dot" x="650" y="40.5"/><use href="#dot" x="710" y="40.5"/><use href="#dot" x="770" y="40.5"/><use href="#dot" x="830" y="40.5"/><use href="#dot" x="890" y="40.5"/><use href="#dot" x="950" y="40.5"/><use href="#dot" x="1010" y="40.5"/>
<text class="n" x="622" y="-2">SEG_A</text><text class="n" x="682" y="-2">SEG_B</text><text class="n" x="742" y="-2">SEG_C</text><text class="n" x="802" y="-2">SEG_D</text><text class="n" x="862" y="-2">SEG_E</text><text class="n" x="922" y="-2">SEG_F</text><text class="n" x="977" y="-2">SEG_G</text><text class="n" x="1042" y="-2">SEG_DP</text>
<text class="n" x="622" y="38">DIG8</text>
<text class="c" x="672" y="24">LED25</text><text class="c" x="732" y="24">LED26</text><text class="c" x="792" y="24">LED27</text><text class="c" x="852" y="24">LED28</text><text class="c" x="912" y="24">LED29</text><text class="c" x="972" y="24">LED30</text><text class="c" x="1032" y="24">LED31</text><text class="c" x="1092" y="24">LED32</text>
</g>
<g transform="translate(0,361)">
<path class="g" d="M620 .5H650M680 .5H710M740 .5H770M800 .5H830M860 .5H890M920 .5H950M980 .5H1010M1040 .5H1070M620 40.5H1070"/>
<use href="#led" x="650"/><use href="#led" x="710"/><use href="#led" x="770"/><use href="#led" x="830"/><use href="#led" x="890"/><use href="#led" x="950"/><use href="#led" x="1010"/><use href="#led" x="1070"/>
<use href="#dot" x="650" y="40.5"/><use href="#dot" x="710" y="40.5"/><use href="#dot" x="770" y="40.5"/><use href="#dot" x="830" y="40.5"/><use href="#dot" x="890" y="40.5"/><use href="#dot" x="950" y="40.5"/><use href="#dot" x="1010" y="40.5"/>
<text class="n" x="622" y="-2">SEG_A</text><text class="n" x="682" y="-2">SEG_B</text><text class="n" x="742" y="-2">SEG_C</text><text class="n" x="802" y="-2">SEG_D</text><text class="n" x="862" y="-2">SEG_E</text><text class="n" x="922" y="-2">SEG_F</text><text class="n" x="982" y="-2">SEG_G</text><text class="n" x="1042" y="-2">SEG_DP</text>
<text class="n" x="622" y="38">DIG9</text>
<text class="c" x="672" y="24">LED33</text><text class="c" x="732" y="24">LED34</text><text class="c" x="792" y="24">LED35</text><text class="c" x="852" y="24">LED36</text><text class="c" x="912" y="24">LED37</text><text class="c" x="972" y="24">LED38</text><text class="c" x="1032" y="24">LED39</text><text class="c" x="1092" y="24">LED40</text>
</g>
<g transform="translate(0,436)">
<path class="g" d="M620 .5H650M680 .5H710M740 5V.5H770M800 .5H830M860 .5H890M920 .5H950M980 .5H1010M1040 .5H1070M620 40.5H1070"/>
<use href="#led" x="650"/><use href="#led" x="710"/><use href="#led" x="770"/><use href="#led" x="830"/><use href="#led" x="890"/><use href="#led" x="950"/><use href="#led" x="1010"/><use href="#led" x="1070"/>
<use href="#dot" x="650" y="40.5"/><use href="#dot" x="710" y="40.5"/><use href="#dot" x="770" y="40.5"/><use href="#dot" x="830" y="40.5"/><use href="#dot" x="890" y="40.5"/><use href="#dot" x="950" y="40.5"/><use href="#dot" x="1010" y="40.5"/>
<text class="n" x="622" y="-2">SEG_A</text><text class="n" x="682" y="-2">SEG_B</text><text class="n" x="742" y="-2">SEG_C</text><text class="n" x="802" y="-2">SEG_D</text><text class="n" x="862" y="-2">SEG_E</text><text class="n" x="922" y="-2">SEG_F</text><text class="n" x="982" y="-2">SEG_G</text><text class="n" x="1042" y="-2">SEG_DP</text>
<text class="n" x="622" y="38">DIG10</text>
<text class="c" x="672" y="24">LED41</text><text class="c" x="732" y="24">LED42</text><text class="c" x="792" y="24">LED43</text><text class="c" x="852" y="24">LED44</text><text class="c" x="912" y="24">LED45</text><text class="c" x="972" y="24">LED46</text><text class="c" x="1032" y="24">LED47</text><text class="c" x="1092" y="24">LED48</text>
</g>
<g transform="translate(0,506)">
<path class="g" d="M620 .5H650M680 .5H710M740 .5H770M800 .5H830M860 .5H890M920 .5H950M980 .5H1010M1040 .5H1070M620 40.5H1070"/>
<use href="#led" x="650"/><use href="#led" x="710"/><use href="#led" x="770"/><use href="#led" x="830"/><use href="#led" x="890"/><use href="#led" x="950"/><use href="#led" x="1010"/><use href="#led" x="1070"/>
<use href="#dot" x="650" y="40.5"/><use href="#dot" x="710" y="40.5"/><use href="#dot" x="770" y="40.5"/><use href="#dot" x="830" y="40.5"/><use href="#dot" x="890" y="40.5"/><use href="#dot" x="950" y="40.5"/><use href="#dot" x="1010" y="40.5"/>
<text class="n" x="622" y="-2">SEG_A</text><text class="n" x="682" y="-2">SEG_B</text><text class="n" x="742" y="-2">SEG_C</text><text class="n" x="802" y="-2">SEG_D</text><text class="n" x="862" y="-2">SEG_E</text><text class="n" x="922" y="-2">SEG_F</text><text class="n" x="982" y="-2">SEG_G</text><text class="n" x="1042" y="-2">SEG_DP</text>
<text class="n" x="622" y="38">DIG11</text>
<text class="c" x="672" y="24">LED49</text><text class="c" x="732" y="24">LED50</text><text class="c" x="792" y="24">LED51</text><text class="c" x="852" y="24">LED52</text><text class="c" x="912" y="24">LED53</text><text class="c" x="972" y="24">LED54</text><text class="c" x="1032" y="24">LED55</text><text class="c" x="1092" y="24">LED56</text>
</g>
<g transform="translate(0,576)">
<path class="g" d="M620 .5H650M680 .5H710M740 .5H770M800 .5H830M620 40.5H830"/>
<use href="#led" x="650"/><use href="#led" x="710"/><use href="#led" x="770"/><use href="#led" x="830"/>
<use href="#dot" x="650" y="40.5"/><use href="#dot" x="710" y="40.5"/><use href="#dot" x="770" y="40.5"/>
<text class="n" x="622" y="-2">SEG_A</text><text class="n" x="682" y="-2">SEG_B</text><text class="n" x="742" y="-2">SEG_C</text><text class="n" x="802" y="-2">SEG_D</text>
<text class="n" x="622" y="38">DIG12</text>
<text class="c" x="672" y="24">LED57</text><text class="c" x="732" y="24">LED58</text><text class="c" x="792" y="24">LED59</text><text class="c" x="852" y="24">LED60</text>
</g>
<text x="915" y="601" style="font:21.2px 'DejaVu Sans','WenQuanYi Zen Hei','Noto Sans CJK SC',sans-serif;fill:#0000ff">LED灯阵列</text>
<text x="636" y="702" style="font:26.6px 'DejaVu Sans','WenQuanYi Zen Hei','Noto Sans CJK SC',sans-serif;fill:#111">基于STC8H8K64U的旋转LED电子时钟</text>

<!-- logo -->
<g fill="none" stroke="#b01525">
<circle cx="646" cy="766.7" r="28" stroke-width="1.4"/>
<circle cx="646" cy="766.7" r="20" stroke-width="1"/>
<path d="M630 786A25 25 0 0 0 662 786L656 780A18 18 0 0 1 636 780Z" fill="#b01525" stroke="none"/>
<path d="M646 750V755M634 768C636 760 642 757 646 757C650 757 656 760 658 768" stroke-width="2"/>
<path d="M646 757C640 765 649 770 643 777C641 780 639 782 637 783M646 757C652 765 643 770 649 777C651 780 653 782 655 783" stroke-width="2.4"/>
<circle cx="646" cy="755" r="2" fill="#fff" stroke-width="1.5"/>
</g>
<path id="lg" d="M621.500 775A26 26 0 1 1 670.500 775" fill="none"/>
<text style="font:4px 'DejaVu Sans',sans-serif;fill:#b01525"><textPath href="#lg">SHANDONG JIAOTONG UNIVERSITY</textPath></text>
</svg>
</body></html>
